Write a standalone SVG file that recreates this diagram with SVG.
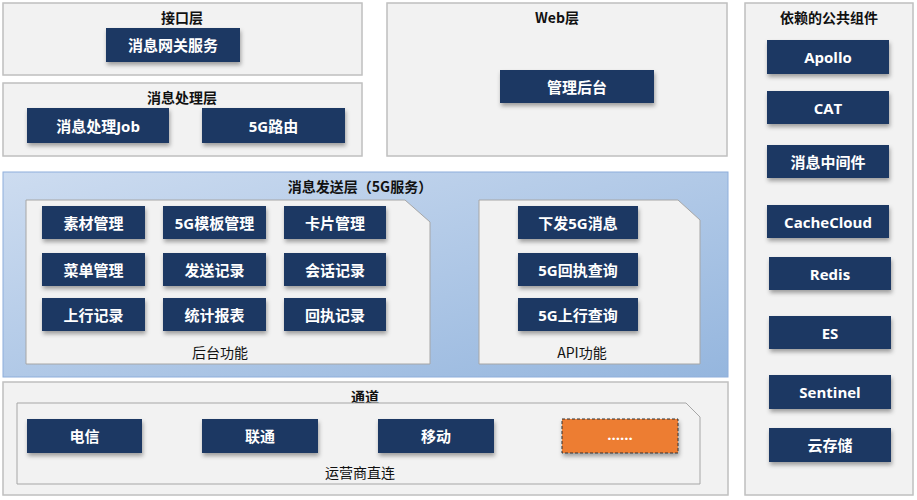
<svg xmlns="http://www.w3.org/2000/svg" width="917" height="500" viewBox="0 0 917 500">
<defs>
<linearGradient id="bg" x1="0" y1="0" x2="1" y2="1"><stop offset="0" stop-color="#cddcf0"/><stop offset="1" stop-color="#95b6de"/></linearGradient>
<filter id="sh" x="-10%" y="-10%" width="130%" height="150%"><feDropShadow dx="1" dy="3" stdDeviation="2" flood-color="#000" flood-opacity="0.35"/></filter>
</defs>
<style>
.panel{fill:#f2f2f2;stroke:#bfbfbf;stroke-width:1.5}
.inner{fill:#f2f2f2;stroke:#a6a6a6;stroke-width:1}
.btn{fill:#1f3864;filter:url(#sh)}
.bt{fill:#fff;font-family:"Open Sans","Noto Sans CJK SC",sans-serif;font-weight:bold;font-size:15px;text-anchor:middle;dominant-baseline:central}
.tt{fill:#111;font-family:"Noto Sans CJK SC",sans-serif;font-weight:bold;font-size:14px;text-anchor:middle;dominant-baseline:central}
.lb{fill:#111;font-family:"Noto Sans CJK SC",sans-serif;font-size:14px;text-anchor:middle;dominant-baseline:central}
</style>
<rect width="917" height="500" fill="#fff"/>
<g id="connectors"/>
<g id="interface">
<rect class="panel" x="3" y="3" width="359" height="72"/>
<text class="tt" x="182" y="17">接口层</text>
<rect class="btn" x="106" y="28" width="134" height="34"/><text class="bt" x="173" y="45">消息网关服务</text>
</g>
<g id="process">
<rect class="panel" x="3" y="83" width="359" height="73"/>
<text class="tt" x="182" y="97">消息处理层</text>
<rect class="btn" x="27" y="108" width="142" height="35"/><text class="bt" x="98" y="125.5">消息处理Job</text>
<rect class="btn" x="202" y="108" width="143" height="35"/><text class="bt" x="273.5" y="125.5">5G路由</text>
</g>
<g id="web">
<rect class="panel" x="387" y="3" width="340" height="153"/>
<text class="tt" x="557" y="17">Web层</text>
<rect class="btn" x="500" y="70" width="154" height="33"/><text class="bt" x="577" y="86.5">管理后台</text>
</g>
<g id="common">
<rect class="panel" x="745" y="3" width="168" height="492"/>
<text class="tt" x="829" y="17">依赖的公共组件</text>
<rect class="btn" x="767" y="40" width="122" height="34"/><text class="bt" x="828" y="57">Apollo</text>
<rect class="btn" x="767" y="91" width="122" height="33"/><text class="bt" x="828" y="107.5">CAT</text>
<rect class="btn" x="767" y="145" width="122" height="33"/><text class="bt" x="828" y="161.5">消息中间件</text>
<rect class="btn" x="767" y="205" width="122" height="33"/><text class="bt" x="828" y="221.5">CacheCloud</text>
<rect class="btn" x="769" y="257" width="122" height="33"/><text class="bt" x="830" y="273.5">Redis</text>
<rect class="btn" x="769" y="316" width="122" height="33"/><text class="bt" x="830" y="332.5">ES</text>
<rect class="btn" x="769" y="375" width="122" height="34"/><text class="bt" x="830" y="392">Sentinel</text>
<rect class="btn" x="769" y="428" width="122" height="34"/><text class="bt" x="830" y="445">云存储</text>
</g>
<g id="send">
<rect x="3" y="172" width="725" height="205" fill="url(#bg)" stroke="#8eaedb" stroke-width="1"/>
<text class="tt" x="360" y="186">消息发送层（5G服务）</text>
<path class="inner" d="M26 200H405L430 222V364H26Z"/>
<rect class="btn" x="42" y="206" width="103" height="33"/><text class="bt" x="93.5" y="222.5">素材管理</text>
<rect class="btn" x="163" y="206" width="103" height="33"/><text class="bt" x="214.5" y="222.5">5G模板管理</text>
<rect class="btn" x="284" y="206" width="102" height="33"/><text class="bt" x="335" y="222.5">卡片管理</text>
<rect class="btn" x="42" y="253" width="103" height="33"/><text class="bt" x="93.5" y="269.5">菜单管理</text>
<rect class="btn" x="163" y="253" width="103" height="33"/><text class="bt" x="214.5" y="269.5">发送记录</text>
<rect class="btn" x="284" y="253" width="102" height="33"/><text class="bt" x="335" y="269.5">会话记录</text>
<rect class="btn" x="42" y="298" width="103" height="33"/><text class="bt" x="93.5" y="314.5">上行记录</text>
<rect class="btn" x="163" y="298" width="103" height="33"/><text class="bt" x="214.5" y="314.5">统计报表</text>
<rect class="btn" x="284" y="298" width="102" height="33"/><text class="bt" x="335" y="314.5">回执记录</text>
<text class="lb" x="220" y="352">后台功能</text>
<path class="inner" d="M479 200H678L700 220V364H479Z"/>
<rect class="btn" x="518" y="206" width="120" height="33"/><text class="bt" x="578" y="222.5">下发5G消息</text>
<rect class="btn" x="518" y="253" width="120" height="33"/><text class="bt" x="578" y="269.5">5G回执查询</text>
<rect class="btn" x="518" y="298" width="120" height="33"/><text class="bt" x="578" y="314.5">5G上行查询</text>
<text class="lb" x="582" y="352">API功能</text>
</g>
<g id="channel">
<rect class="panel" x="3" y="382" width="725" height="113"/>
<text class="tt" x="365" y="396">通道</text>
<path class="inner" d="M17 403H686L700 417V484H17Z"/>
<rect class="btn" x="27" y="419" width="115" height="34"/><text class="bt" x="84.5" y="436">电信</text>
<rect class="btn" x="202" y="419" width="116" height="34"/><text class="bt" x="260" y="436">联通</text>
<rect class="btn" x="378" y="419" width="116" height="34"/><text class="bt" x="436" y="436">移动</text>
<rect x="562" y="419" width="116" height="34" fill="#ed7d31" stroke="#333" stroke-width="1" stroke-dasharray="3,2" filter="url(#sh)"/><text class="bt" x="620" y="434" font-size="12">......</text>
<text class="lb" x="360" y="472">运营商直连</text>
</g>
</svg>
